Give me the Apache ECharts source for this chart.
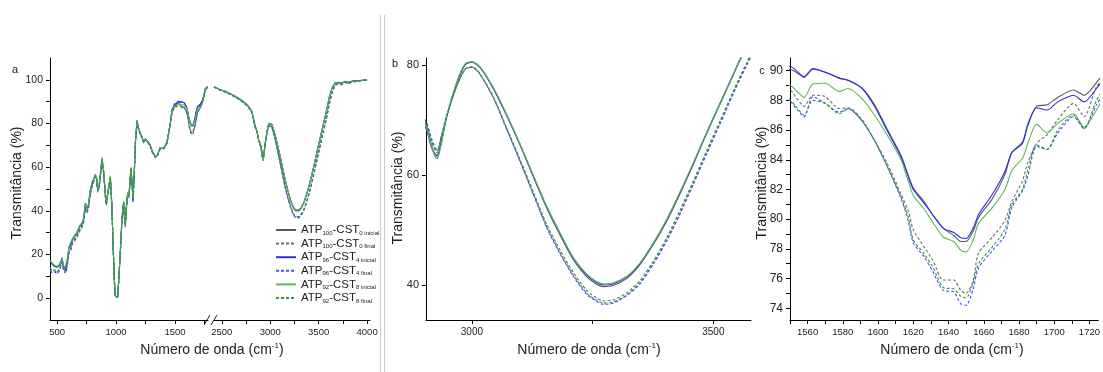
<!DOCTYPE html>
<html><head><meta charset="utf-8">
<script src="https://cdn.jsdelivr.net/npm/echarts@6/dist/echarts.min.js"></script>
<style>html,body{margin:0;padding:0;background:#fff}#c{width:1103px;height:372px}</style>
</head><body><div id="c"></div>
<script>
// ---------- DATA ----------
const seriesNames = ['ATP100-CST0 inicial','ATP100-CST0 final','ATP96-CST4 inicial','ATP96-CST4 final','ATP92-CST8 inicial','ATP92-CST8 final'];
const legendLabels = ['ATP{s|100}-CST{s|0 inicial}','ATP{s|100}-CST{s|0 final}','ATP{s|96}-CST{s|4 inicial}','ATP{s|96}-CST{s|4 final}','ATP{s|92}-CST{s|8 inicial}','ATP{s|92}-CST{s|8 final}'];

// wavenumbers (cm-1), low range (panel a left + panel c)
const leftX = [440,460,480,500,520,542,555,568,580,592,
600,615,627,645,660,675,690,712,725,740,
752,765,782,800,825,835,845,858,870,881,
895,910,918,935,952,965,975,985,994,1005,
1014,1025,1037,1050,1058,1065,1072,1079,1088,1099,
1110,1120,1127,1137,1144,1155,1165,1178,1190,1206,
1220,1235,1250,1263,1280,1291,1310,1333,1350,1362,
1375,1390,1405,1418,1432,1446,1460,1475,1495,1517,
1535,
1550,1554,1558,1563,1570,1578,1583,1591,1598,1605,
1613,1617,1620,1626,1631,1637,1643,1647,1650,1654,
1657,1665,1672,1676,1682,1685,1690,1696,1702,1711,
1717,1724,
1732,1745,1757,1778];

const atp100InicialLow = [17.5,15.5,14.5,14,15,18,14.5,13.5,13,19,
23,23.5,26.5,28,29,30.5,32.5,34,36,43,
41,42,49,53,56.5,55,49.5,52,58,64,
58,47,43.5,50,55.5,42,25,9,1,0.3,
0.5,10,22,36,41,44,37,33.5,42,48,
47,55,59.5,52,45,58,72,81,78,75.5,
74,71.5,73,73.5,71,70,67,65,65.5,65,
69,68.5,69,70,71.5,71,80,86,88,89,
89.5,
90.1,89.85,89.55,90.1,89.9,89.5,89.35,88.8,87.7,86.1,
84.3,83.0,82.1,81.2,80.3,79.4,78.9,78.5,78.5,79.2,
80.1,81.4,83.0,84.5,85.2,86.4,87.6,87.7,88.2,88.7,
88.35,89.2,
90.5,93,96,96.8];

const atp100FinalLow = [13,12,12.5,11.5,13,16.5,13,12,12.5,17,
21,22,25,26.5,27.5,29,31,33,35,41.5,
39.5,41,48,52,56,54.5,49,51.5,57.5,63.5,
57.5,46.5,43,49.5,55,41.5,24.5,8.5,0.8,0.2,
0.4,9.5,21.5,35.5,40.5,43.5,36.5,33,41.5,47.5,
46.5,54.5,59,51.5,44.5,57.5,71.5,80.5,77.5,75,
73.5,71,72.5,73,70.5,69.5,66.5,64.5,65,64.5,
68.5,68,68.5,69.5,71,70.5,79.5,85.5,87.5,88.5,
88.8,
88.7,88.1,87.6,88.35,88.25,87.45,87.5,86.7,85.3,83.8,
81.7,80.6,79.3,78.15,77.25,75.9,75.9,75.2,75.0,75.9,
77.7,78.8,79.9,81.2,82.6,83.8,85.1,85.7,86.7,87.8,
86.9,88.9,
90,92.5,95.5,96.6];

const atp96InicialLow = [17,15.5,14.5,14.5,15,18.5,14.5,13.5,12.5,19.5,
23,24,26.5,28.5,29.5,31,33,34.5,36.5,43.5,
41.5,42.5,49.5,53.5,56.5,55,49.5,52,58.5,64,
58,47,43.5,50,55.5,42,25,9,1,0.3,
0.5,10,22,36,41,44,37,33.5,42,48,
47,55,59.5,52,45,58,72,81.5,78,75.5,
74,71.5,73,73.5,71,70,67,65,65.5,65,
69,68.5,69,70,71.5,71,80,86,88.5,89.5,
90,
90.3,89.95,89.6,90.15,89.9,89.5,89.35,88.8,87.6,86.0,
84.2,82.9,82.0,81.1,80.3,79.4,79.1,78.75,78.7,79.4,
80.3,81.7,83.2,84.5,85.1,86.3,87.5,87.35,87.9,88.35,
87.9,88.8,
90.2,92.8,96,96.8];

const atp96FinalLow = [12.5,11.5,12,11,12.5,16,12.5,11.5,12,16.5,
20.5,21.5,24.5,26,27,28.5,30.5,32.5,34.5,41,
39,40.5,47.5,51.5,55.5,54,48.5,51,57,63,
57,46,42.5,49,54.5,41,24,8.5,0.8,0.2,
0.4,9.5,21.5,35,40,43,36,32.5,41,47,
46,54,58.5,51,44,57,71,80.5,77.5,75,
73.5,71,72.5,73,70.5,69.5,66.5,64.5,65,64.5,
68.5,68,68.5,69.5,71,70.5,80,86.5,89,90,
90.3,
88.0,87.4,86.9,88.25,87.8,87.2,87.45,86.6,85.3,83.6,
81.4,79.95,78.4,77.5,76.5,75.2,75.1,74.3,74.2,75.3,
76.7,77.9,78.9,80.8,81.9,82.9,84.9,84.7,85.8,86.9,
86.1,87.7,
89.2,92.3,95.3,96.5];

const atp92InicialLow = [17.5,16,15,14.5,15.5,18,15,14,13.5,19,
23.5,24,27,28.5,29.5,31,33,34.5,36.5,43,
41.5,42.5,49.5,53.5,56.5,55.5,50,52.5,58.5,64.5,
58.5,47.5,44,50.5,56,42.5,25.5,9,1,0.5,
0.6,10.5,22.5,36.5,41.5,44.5,37.5,34,42.5,48.5,
47.5,55.5,60,52.5,45.5,58.5,72.5,81,78,75.5,
74,71.5,73,73.5,71,70,67,65,65.5,65,
69,68.5,69,70,71.5,71,79.5,85.5,87.5,88.3,
88.8,
89.0,88.6,88.2,89.1,89.15,88.6,88.8,88.1,87.0,85.7,
84.0,82.6,81.6,80.7,79.8,78.8,78.5,77.9,77.8,78.6,
79.7,80.8,82.0,83.3,84.1,85.1,86.4,85.8,86.45,87.1,
86.2,87.35,
89.2,92.5,95.8,96.8];

const atp92FinalLow = [14,12.5,13,12,13.5,17,13.5,12.5,12.5,17.5,
21.5,22.5,25.5,27,28,29.5,31.5,33.5,35.5,42,
40,41.5,48.5,52.5,56,54.5,49,51.5,57.5,63.5,
57.5,46.5,43,49.5,55,41.5,24.5,8.5,0.8,0.2,
0.4,9.5,21.5,35.5,40.5,43.5,36.5,33,41.5,47.5,
46.5,54.5,59,51.5,44.5,57.5,71.5,80.5,77.5,75,
73.5,71,72.5,73,70.5,69.5,66.5,64.5,65,64.5,
68.5,68,68.5,69.5,71,70.5,79.5,85,87,88,
88.3,
88.0,87.5,87.0,88.0,87.8,87.1,87.45,86.6,85.3,83.6,
81.5,80.2,78.6,77.7,76.8,75.4,75.3,74.8,74.7,75.7,
77.0,78.15,79.3,81.0,82.0,83.3,85.0,84.7,86.0,87.0,
86.1,88.0,
89.5,92.4,95.4,96.5];

// wavenumbers (cm-1), high range (panel a right + panel b)
const rightX = [2420,2480,2535,2590,2638,2690,2741,2780,2810,2845,2865,2880,2895,
2907,2917,2928,2937,2948,2969,2986,3000,3017,3045,
3072,3100,3128,3155,3183,3210,3238,3259,3272,3293,
3321,3348,3376,3404,3431,3459,3486,3514,3541,3555,
3569,3580,
3610,3640,3670,3700,3720,3740,3770,3800,3850,3900,3950,4000];

const atp100InicialHigh = [96.8,95.5,94.7,93.5,92.4,91,89.3,87.5,85.5,78.6,76,72.5,70.5,
68.8,65.3,63.0,66.0,70.6,76.7,80.0,80.5,79.5,75.6,
70.8,65.4,59.5,54.0,49.0,44.6,41.5,40.1,39.7,39.9,
41.2,43.7,47.4,51.7,56.6,62.0,67.5,72.9,78.1,80.8,
83.3,85.5,
92,96.5,98.5,98.8,99.2,98.4,99.3,98.8,99.4,99.6,99.8,100];

const atp100FinalHigh = [96.7,95.4,94.5,93.3,92.2,90.8,89.0,87.2,85.2,78.5,76.0,72.6,71.0,
69.2,66.2,64.3,67.0,70.8,76.2,79.2,79.6,78.3,74.0,
68.4,62.5,56.4,50.6,45.8,41.8,38.5,37.2,36.7,36.9,
38.2,40.4,44.0,48.3,53.1,58.6,64.0,69.5,74.9,77.6,
80.1,82.2,
89.0,94.5,97.5,98.3,98.8,97.8,99.0,98.3,99.1,99.4,99.7,100];

const atp96InicialHigh = [96.8,95.6,94.8,93.6,92.5,91.1,89.4,87.6,85.6,78.8,76.2,72.6,70.3,
68.0,64.8,63.5,66.2,70.6,76.8,80.1,80.6,79.6,75.7,
70.9,65.5,59.7,54.2,49.3,44.9,41.8,40.4,40.0,40.2,
41.5,43.9,47.6,51.9,56.8,62.2,67.7,73.1,78.3,81.0,
83.5,85.7,
92.2,96.6,98.6,98.9,99.2,98.5,99.3,98.9,99.4,99.6,99.8,100];

const atp96FinalHigh = [96.6,95.3,94.4,93.2,92.1,90.7,88.9,87.1,85.0,78.3,75.8,72.5,71.2,
69.4,66.5,64.5,67.2,70.9,76.3,79.2,79.6,78.3,73.9,
68.3,62.4,56.3,50.4,45.6,41.6,38.3,37.0,36.5,36.7,
38.1,40.2,43.8,48.1,52.9,58.4,63.8,69.3,74.7,77.4,
79.9,82.0,
88.8,94.3,97.4,98.2,98.7,97.7,98.9,98.2,99.0,99.3,99.6,100];

const atp92InicialHigh = [96.9,95.6,94.8,93.6,92.5,91.1,89.4,87.7,85.7,79,76.4,72.8,70.6,
68.4,64.9,62.9,65.8,70.8,77.0,80.2,80.6,79.6,75.8,
71.0,65.6,59.8,54.3,49.4,45.0,42.0,40.6,40.2,40.4,
41.6,44.0,47.7,52.0,56.9,62.3,67.7,73.1,78.2,80.9,
83.4,85.6,
92.1,96.5,98.5,98.7,99.1,98.2,99.2,98.6,99.3,99.5,99.8,100];

const atp92FinalHigh = [96.7,95.4,94.5,93.3,92.2,90.8,89.0,87.2,85.2,78.5,76.0,72.6,70.8,
69.0,66.0,64.0,66.9,70.8,76.3,79.3,79.7,78.4,74.1,
68.6,62.8,56.8,51.0,46.3,42.3,39.0,37.6,37.1,37.3,
38.6,40.8,44.4,48.7,53.6,59.0,64.4,69.9,75.2,77.9,
80.4,82.5,
89.3,94.7,97.6,98.4,98.9,97.9,99.1,98.4,99.1,99.4,99.7,100];

// axis tick values / labels
const aLeftLabels = [500,1000,1500], aLeftTicks = [500,750,1000,1250,1500,1750];
const aRightLabels = [2500,3000,3500,4000], aRightTicks = [2500,2750,3000,3250,3500,3750,4000];
const aYLabels = [0,20,40,60,80,100], aYTicks = [0,10,20,30,40,50,60,70,80,90,100];
const bXLabels = [3000,3500], bXTicks = [3000,3250,3500];
const bYLabels = [40,60,80], bYTicks = [40,60,80];
const cXLabels = [1560,1580,1600,1620,1640,1660,1680,1700,1720];
const cXTicks = [1550,1560,1570,1580,1590,1600,1610,1620,1630,1640,1650,1660,1670,1680,1690,1700,1710,1720];
const cYLabels = [74,76,78,80,82,84,86,88,90];
const cYTicks = [74,75,76,77,78,79,80,81,82,83,84,85,86,87,88,89,90];

// ---------- CHART ----------
const FONT = '"Liberation Sans", Arial, sans-serif';
const lowData = [atp100InicialLow, atp100FinalLow, atp96InicialLow, atp96FinalLow, atp92InicialLow, atp92FinalLow];
const highData = [atp100InicialHigh, atp100FinalHigh, atp96InicialHigh, atp96FinalHigh, atp92InicialHigh, atp92FinalHigh];
const colors = ['#5a5a5a','#6e6e6e','#2c2ce4','#4a4aff','#5cb85c','#2e9a2e'];
const dashed = [false,true,false,true,false,true];

function zip(xs, ys){ const n=Math.min(xs.length, ys.length); const out=[]; for(let i=0;i<n;i++) out.push([xs[i], ys[i]]); return out; }
const plain = v => String(v);

function xAx(grid, min, max, labels, ticks, fs){
  return {type:'value', gridIndex:grid, min, max,
    axisLine:{show:true, onZero:false, lineStyle:{color:'#000', width:1}},
    axisTick:{show:true, length:4, customValues:ticks, lineStyle:{color:'#000'}},
    axisLabel:{show:true, customValues:labels, formatter:plain, fontSize:fs, color:'#222', fontFamily:FONT, margin:7},
    splitLine:{show:false}};
}
function yAx(grid, min, max, labels, ticks, fs, show){
  return {type:'value', gridIndex:grid, min, max, show: show!==false,
    axisLine:{show:true, onZero:false, lineStyle:{color:'#000', width:1}},
    axisTick:{show:true, length:4, customValues:ticks, lineStyle:{color:'#000'}},
    axisLabel:{show:true, customValues:labels, formatter:plain, fontSize:fs, color:'#222', fontFamily:FONT, margin:7},
    splitLine:{show:false}};
}

const series = [];
const panels = [
  {idx:0, src:'low', smooth:false},
  {idx:1, src:'high', smooth:false},
  {idx:2, src:'high', smooth:0.25},
  {idx:3, src:'low', smooth:0.25}
];
panels.forEach(p => {
  for (let k=0;k<6;k++){
    const d = p.src==='low' ? zip(leftX, lowData[k]) : zip(rightX, highData[k]);
    series.push({type:'line', name:seriesNames[k], xAxisIndex:p.idx, yAxisIndex:p.idx,
      data:d, showSymbol:false, symbol:'none', smooth:p.smooth, clip:true, silent:true,
      lineStyle:{color:colors[k], width:1.1, type: dashed[k] ? [3,2] : 'solid'},
      itemStyle:{color:colors[k]}});
  }
});

const titleRich = {sup:{fontSize:8, fontFamily:FONT, fill:'#222', verticalAlign:'top', lineHeight:16}};
function txt(x,y,text,fs,rot){
  return {type:'text', x, y, rotation: rot||0, silent:true,
    style:{text, fontSize:fs, fontFamily:FONT, fill:'#222', align:'center', verticalAlign:'middle', lineHeight:16, rich:titleRich}};
}
const xTitle = 'Número de onda (cm{sup|-1})';

const option = {
  animation:false,
  backgroundColor:'#fff',
  grid:[
    {left:50, top:58, width:158, height:262},
    {left:214, top:58, width:156, height:262},
    {left:426, top:58, width:325, height:262},
    {left:790, top:58, width:316.75, height:262}
  ],
  xAxis:[
    xAx(0, 440, 1780, aLeftLabels, aLeftTicks, 9.5),
    xAx(1, 2420, 4030, aRightLabels, aRightTicks, 9.5),
    xAx(2, 2905, 3578, bXLabels, bXTicks, 10),
    xAx(3, 1550, 1725, cXLabels, cXTicks, 9.5)
  ],
  yAxis:[
    yAx(0, -10, 110, aYLabels, aYTicks, 10.5),
    yAx(1, -10, 110, aYLabels, aYTicks, 10.5, false),
    yAx(2, 33.64, 81.27, bYLabels, bYTicks, 11),
    yAx(3, 73.21, 90.855, cYLabels, cYTicks, 12)
  ],
  legend:{
    show:true, left:270, top:219, orient:'vertical', selectedMode:false,
    itemWidth:20, itemHeight:12, itemGap:1.6,
    itemStyle:{color:'rgba(0,0,0,0)', borderWidth:0, opacity:0},
    data: seriesNames,
    formatter: n => legendLabels[seriesNames.indexOf(n)],
    textStyle:{fontFamily:FONT, fontSize:11.5, color:'#222', lineHeight:12,
      rich:{s:{fontSize:6, fontFamily:FONT, color:'#222', lineHeight:12, verticalAlign:'bottom'}}}
  },
  series,
  graphic:[
    {type:'line', silent:true, shape:{x1:380.5, y1:15, x2:380.5, y2:372}, style:{stroke:'#c8c8c8', lineWidth:1}},
    {type:'line', silent:true, shape:{x1:384.5, y1:15, x2:384.5, y2:372}, style:{stroke:'#c8c8c8', lineWidth:1}},
    {type:'line', silent:true, shape:{x1:204, y1:325, x2:210, y2:315}, style:{stroke:'#222', lineWidth:1}},
    {type:'line', silent:true, shape:{x1:211, y1:325, x2:217, y2:315}, style:{stroke:'#222', lineWidth:1}},
    txt(15, 70, 'a', 11),
    txt(395, 64, 'b', 11),
    txt(762, 71, 'c', 11),
    txt(17, 183, 'Transmitância (%)', 14, Math.PI/2),
    txt(398, 188, 'Transmitância (%)', 14, Math.PI/2),
    txt(762, 183, 'Transmitância (%)', 14, Math.PI/2),
    txt(212, 350, xTitle, 14),
    txt(589, 350, xTitle, 14),
    txt(952, 350, xTitle, 14)
  ]
};
const chart = echarts.init(document.getElementById('c'), null, {renderer:'canvas'});
chart.setOption(option);
</script>
</body></html>
